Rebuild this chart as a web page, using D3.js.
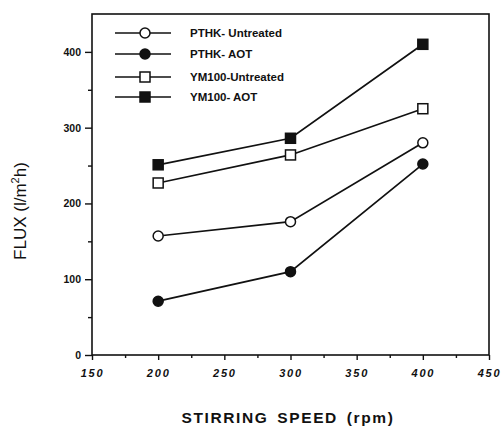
<!DOCTYPE html>
<html>
<head>
<meta charset="utf-8">
<script src="https://cdn.jsdelivr.net/npm/d3@7"></script>
<style>
  body { margin: 0; background: #fff; }
  text { font-family: "Liberation Sans", Arial, sans-serif; fill: #111; }
</style>
</head>
<body>
<script>
// stirring speeds (rpm) and flux values (l/m2h)
const speeds = [200, 300, 400];
const pthkUntreated = [157, 176, 280];
const pthkAot = [71, 110, 252];
const ym100Untreated = [227, 264, 325];
const ym100Aot = [251, 286, 410];
const seriesNames = ["PTHK- Untreated", "PTHK- AOT", "YM100-Untreated", "YM100- AOT"];
const xTicks = [150, 200, 250, 300, 350, 400, 450];
const yTicks = [0, 100, 200, 300, 400];

const series = [
  { name: seriesNames[0], values: pthkUntreated, shape: "circle", filled: false },
  { name: seriesNames[1], values: pthkAot, shape: "circle", filled: true },
  { name: seriesNames[2], values: ym100Untreated, shape: "square", filled: false },
  { name: seriesNames[3], values: ym100Aot, shape: "square", filled: true }
];

const W = 501, H = 426;
const plotL = 92, plotR = 489, plotT = 14, plotB = 355;

const x = d3.scaleLinear().domain([150, 450]).range([plotL, plotR]);
const y = d3.scaleLinear().domain([0, 450]).range([plotB, plotT]);

const svg = d3.select("body").append("svg")
  .attr("width", W)
  .attr("height", H);

// frame
svg.append("rect")
  .attr("x", plotL).attr("y", plotT)
  .attr("width", plotR - plotL).attr("height", plotB - plotT)
  .attr("fill", "none").attr("stroke", "#111").attr("stroke-width", 1.6);

// minor ticks
svg.append("g")
  .attr("transform", `translate(0,${plotB})`)
  .call(d3.axisBottom(x).tickValues(d3.range(175, 450, 50)).tickSize(3).tickFormat(""))
  .call(g => g.select(".domain").remove());
svg.append("g")
  .attr("transform", `translate(${plotL},0)`)
  .call(d3.axisLeft(y).tickValues(d3.range(50, 450, 100)).tickSize(4).tickFormat(""))
  .call(g => g.select(".domain").remove());

// x axis
svg.append("g")
  .attr("transform", `translate(0,${plotB})`)
  .call(d3.axisBottom(x).tickValues(xTicks).tickSize(5).tickPadding(9))
  .call(g => g.select(".domain").remove())
  .call(g => g.selectAll("text")
    .attr("font-size", 11).attr("font-weight", "bold").attr("font-style", "italic")
    .attr("letter-spacing", 1.8).attr("font-family", "Liberation Sans, Arial, sans-serif"));

// y axis
svg.append("g")
  .attr("transform", `translate(${plotL},0)`)
  .call(d3.axisLeft(y).tickValues(yTicks).tickSize(7).tickPadding(4))
  .call(g => g.select(".domain").remove())
  .call(g => g.selectAll("text")
    .attr("font-size", 10.5).attr("font-weight", "bold")
    .attr("font-family", "Liberation Sans, Arial, sans-serif"));

svg.selectAll(".tick line").attr("stroke", "#111").attr("stroke-width", 1.4);

// axis titles
svg.append("text")
  .attr("x", 288).attr("y", 423)
  .attr("text-anchor", "middle")
  .attr("font-size", 15.5).attr("font-weight", "bold").attr("letter-spacing", 1.6)
  .attr("word-spacing", 3)
  .text("STIRRING SPEED (rpm)");

const yt = svg.append("text")
  .attr("transform", `translate(26,211) rotate(-90)`)
  .attr("text-anchor", "middle")
  .attr("font-size", 17);
yt.append("tspan").text("FLUX (l/m");
yt.append("tspan").attr("font-size", 11).attr("dy", -7).text("2");
yt.append("tspan").attr("dy", 7).text("h)");

const line = d3.line().x((d, i) => x(speeds[i])).y(d => y(d));

function marker(g, s, cx, cy) {
  const fill = s.filled ? "#111" : "#fff";
  if (s.shape === "circle") {
    g.append("circle").attr("cx", cx).attr("cy", cy).attr("r", 5)
      .attr("fill", fill).attr("stroke", "#111").attr("stroke-width", 1.5);
  } else {
    g.append("rect").attr("x", cx - 5).attr("y", cy - 5).attr("width", 10).attr("height", 10)
      .attr("fill", fill).attr("stroke", "#111").attr("stroke-width", 1.5);
  }
}

series.forEach(s => {
  const g = svg.append("g");
  g.append("path").datum(s.values).attr("d", line)
    .attr("fill", "none").attr("stroke", "#111").attr("stroke-width", 1.7);
  s.values.forEach((v, i) => marker(g, s, x(speeds[i]), y(v)));
});

// legend
const legendY = [33, 54, 77, 97];
series.forEach((s, i) => {
  const g = svg.append("g");
  g.append("line").attr("x1", 115).attr("x2", 171)
    .attr("y1", legendY[i]).attr("y2", legendY[i])
    .attr("stroke", "#111").attr("stroke-width", 1.7);
  marker(g, s, 145, legendY[i]);
  g.append("text").attr("x", 190).attr("y", legendY[i] + 4)
    .attr("font-size", 11.5).attr("font-weight", "bold")
    .text(s.name);
});
</script>
</body>
</html>
